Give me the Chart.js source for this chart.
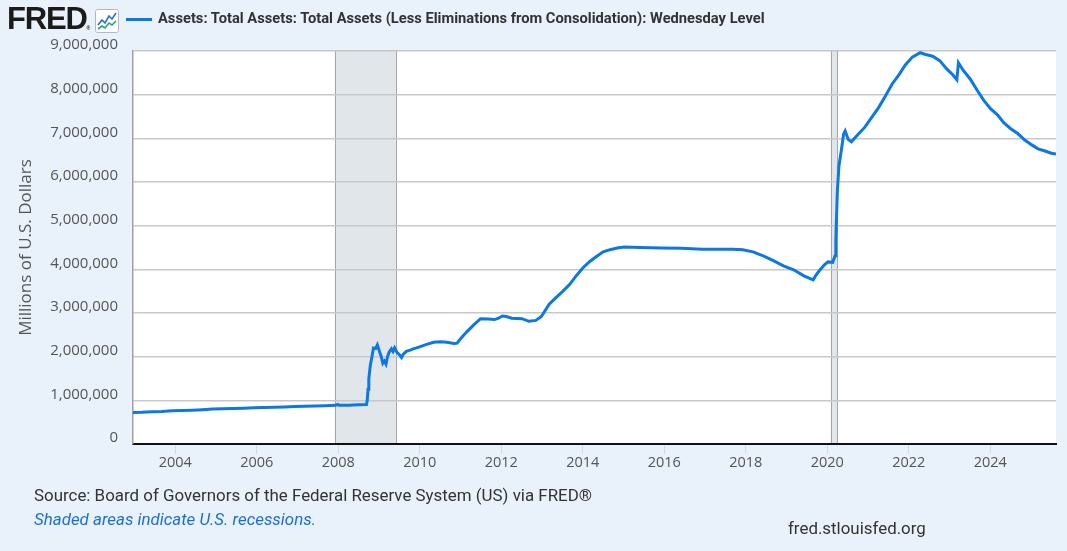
<!DOCTYPE html>
<html>
<head>
<meta charset="utf-8">
<title>FRED - Total Assets</title>
<script src="https://cdn.jsdelivr.net/npm/chart.js@4/dist/chart.umd.min.js"></script>
<style>
  html, body { margin: 0; padding: 0; }
  body {
    width: 1067px; height: 551px; overflow: hidden; position: relative;
    background: #e9f1fa; font-family: Roboto, "Open Sans", sans-serif;
  }
  #wrap { position: absolute; left: 0; top: 0; width: 1067px; height: 551px; }
  .abs { position: absolute; white-space: nowrap; }
  #logo { left: 7px; top: 1px; font: bold 31px "Liberation Sans", Arial, sans-serif; color: #1b1b1b; letter-spacing: -1.2px; }
  #logo sup { font-size: 5px; letter-spacing: 0; vertical-align: -1px; }
  #icon { left: 95px; top: 9px; }
  #swatch { left: 126px; top: 18px; width: 26px; height: 3px; background: #0b78e3; }
  #title { left: 158px; top: 9px; font-weight: bold; font-size: 14.7px; color: #333; }
  #source { left: 34px; top: 485px; font-size: 16.9px; color: #333; }
  #shaded { left: 34px; top: 509px; font-size: 16.9px; font-style: italic; color: #1a6fd6; }
  #site { left: 788px; top: 518px; font-size: 16.9px; color: #333; }
</style>
</head>
<body>
<div id="wrap"><canvas id="chart"></canvas></div>
<div class="abs" id="logo">FRED<sup>®</sup></div>
<svg class="abs" id="icon" width="24" height="24" viewBox="0 0 24 24">
  <rect x="0.5" y="0.5" width="23" height="23" rx="2" fill="#fff" stroke="#b8b8b8"/>
  <polyline points="3,16 7,11 10,14 14,7 17,10 21,4" fill="none" stroke="#2a6fd6" stroke-width="1.6"/>
  <polyline points="3,20 7,17 10,19 14,14 17,16 21,12" fill="none" stroke="#2aa37a" stroke-width="1.6"/>
</svg>
<div class="abs" id="swatch"></div>
<div class="abs" id="title">Assets: Total Assets: Total Assets (Less Eliminations from Consolidation): Wednesday Level</div>
<div class="abs" id="source">Source: Board of Governors of the Federal Reserve System (US) via FRED®</div>
<div class="abs" id="shaded">Shaded areas indicate U.S. recessions.</div>
<div class="abs" id="site">fred.stlouisfed.org</div>

<script>
// Datos (millones de dólares, nivel de los miércoles)
const dates = [
  '2002-12-18','2003-03-05','2003-06-04','2003-09-03','2003-12-03',
  '2004-03-03','2004-06-02','2004-09-01','2004-12-01',
  '2005-03-02','2005-06-01','2005-09-07','2005-12-07',
  '2006-03-01','2006-06-07','2006-09-06','2006-12-06',
  '2007-03-07','2007-06-06','2007-09-05','2007-12-05','2007-12-26',
  '2008-01-09','2008-04-02','2008-07-02','2008-09-10','2008-09-17','2008-09-24',
  '2008-10-01','2008-10-15','2008-10-29','2008-11-12','2008-12-03','2008-12-17',
  '2009-01-07','2009-01-21','2009-02-04','2009-02-18','2009-03-04','2009-03-18',
  '2009-04-01','2009-04-22','2009-05-06','2009-05-20','2009-06-10','2009-07-01',
  '2009-07-22','2009-08-05','2009-09-02','2009-10-07','2009-11-04','2009-12-02',
  '2010-01-06','2010-03-03','2010-05-05','2010-07-07','2010-09-01','2010-11-03','2010-12-01',
  '2011-01-05','2011-03-02','2011-05-04','2011-06-29','2011-09-07','2011-11-02','2011-12-07',
  '2012-01-11','2012-02-15','2012-04-04','2012-07-04','2012-09-05','2012-11-07','2012-12-26',
  '2013-03-06','2013-05-01','2013-07-03','2013-09-04','2013-11-06',
  '2014-01-01','2014-03-05','2014-05-07','2014-07-02','2014-09-03','2014-11-05',
  '2015-01-07','2015-06-03','2015-12-02','2016-06-01','2016-12-07',
  '2017-06-07','2017-09-06','2017-12-06',
  '2018-03-07','2018-06-06','2018-09-05','2018-12-05',
  '2019-03-06','2019-06-05','2019-08-28','2019-09-18','2019-10-16','2019-12-04',
  '2020-01-08','2020-02-19','2020-03-11','2020-03-18','2020-03-25','2020-04-01',
  '2020-04-15','2020-05-06','2020-05-27','2020-06-10','2020-07-08','2020-08-05',
  '2020-10-07','2020-12-02',
  '2021-02-03','2021-04-07','2021-06-02','2021-08-04','2021-10-06','2021-12-01',
  '2022-02-02','2022-04-13','2022-06-01','2022-08-03','2022-10-05','2022-12-07',
  '2023-02-01','2023-03-08','2023-03-22','2023-05-03','2023-07-05','2023-09-06','2023-11-01',
  '2024-01-03','2024-03-06','2024-05-01','2024-07-03','2024-09-04','2024-11-06',
  '2025-01-08','2025-03-05','2025-05-07','2025-07-02','2025-08-13'
];

const assets = [
  720000, 725000, 738000, 745000, 760000,
  765000, 775000, 785000, 800000,
  805000, 812000, 820000, 830000,
  835000, 843000, 850000, 858000,
  862000, 870000, 875000, 885000, 905000,
  890000, 885000, 900000, 905000, 1000000, 1256000,
  1491000, 1810000, 1990000, 2200000, 2190000, 2270000,
  2100000, 2000000, 1850000, 1900000, 1830000, 2000000,
  2100000, 2180000, 2120000, 2200000, 2100000, 2050000,
  1980000, 2050000, 2120000, 2150000, 2180000, 2200000,
  2230000, 2280000, 2330000, 2340000, 2330000, 2300000, 2310000,
  2420000, 2580000, 2740000, 2870000, 2860000, 2850000, 2880000,
  2930000, 2920000, 2880000, 2870000, 2810000, 2830000, 2920000,
  3200000, 3340000, 3490000, 3650000, 3860000,
  4030000, 4180000, 4300000, 4400000, 4450000, 4490000,
  4510000, 4500000, 4490000, 4480000, 4460000,
  4460000, 4460000, 4450000,
  4400000, 4310000, 4200000, 4080000,
  3990000, 3850000, 3760000, 3850000, 3950000, 4100000,
  4170000, 4160000, 4310000, 4670000, 5250000, 5810000,
  6370000, 6720000, 7100000, 7170000, 6970000, 6920000,
  7100000, 7250000,
  7480000, 7710000, 7950000, 8240000, 8460000, 8680000,
  8860000, 8960000, 8920000, 8880000, 8780000, 8590000,
  8450000, 8340000, 8730000, 8560000, 8360000, 8100000, 7880000,
  7680000, 7540000, 7360000, 7220000, 7110000, 6960000,
  6850000, 6760000, 6710000, 6660000, 6640000
];

// Recesiones (inicio, fin)
const recessionStarts = ['2007-12-01', '2020-02-01'];
const recessionEnds = ['2009-06-01', '2020-04-01'];

// Etiquetas de los ejes
const xTickYears = [2004, 2006, 2008, 2010, 2012, 2014, 2016, 2018, 2020, 2022, 2024];
const yTickValues = [0, 1000000, 2000000, 3000000, 4000000, 5000000, 6000000, 7000000, 8000000, 9000000];

const LINE_COLOR = '#0b78e3';

/**
 * Convierte 'YYYY-MM-DD' en año decimal
 */
function toYear(s) {
  const [y, m, d] = s.split('-').map(Number);
  const start = Date.UTC(y, 0, 1);
  const end = Date.UTC(y + 1, 0, 1);
  return y + (Date.UTC(y, m - 1, d) - start) / (end - start);
}

const points = dates.map((d, i) => ({ x: toYear(d), y: assets[i] }));

// Fondo blanco del área y franjas de recesión
const recessionPlugin = {
  id: 'recessions',
  beforeDraw(chart) {
    const { ctx, chartArea: a, scales: { x } } = chart;
    ctx.save();
    ctx.fillStyle = '#ffffff';
    ctx.fillRect(a.left, a.top, a.right - a.left, a.bottom - a.top);
    recessionStarts.forEach((s, i) => {
      const x0 = x.getPixelForValue(toYear(s));
      const x1 = x.getPixelForValue(toYear(recessionEnds[i]));
      ctx.fillStyle = '#e1e6eb';
      ctx.fillRect(x0, a.top, x1 - x0, a.bottom - a.top);
      ctx.strokeStyle = '#a6a6a6';
      ctx.lineWidth = 1;
      ctx.beginPath();
      ctx.moveTo(Math.round(x0) + 0.5, a.top);
      ctx.lineTo(Math.round(x0) + 0.5, a.bottom);
      ctx.moveTo(Math.round(x1) + 0.5, a.top);
      ctx.lineTo(Math.round(x1) + 0.5, a.bottom);
      ctx.stroke();
    });
    ctx.restore();
  }
};

new Chart(document.getElementById('chart'), {
  type: 'line',
  data: {
    datasets: [{
      label: 'Total Assets',
      data: points,
      borderColor: LINE_COLOR,
      borderWidth: 3,
      pointRadius: 0,
      tension: 0,
      fill: false
    }]
  },
  options: {
    responsive: true,
    maintainAspectRatio: false,
    animation: false,
    layout: { padding: { left: 0, right: 11, top: 51, bottom: 77 } },
    plugins: {
      legend: { display: false },
      tooltip: { enabled: false }
    },
    scales: {
      x: {
        type: 'linear',
        min: toYear(dates[0]),
        max: toYear(dates[dates.length - 1]),
        afterBuildTicks(axis) {
          axis.ticks = xTickYears.map(v => ({ value: v }));
        },
        afterFit(axis) { axis.height = 30; },
        grid: {
          drawOnChartArea: false,
          drawTicks: true,
          tickLength: 10,
          color: '#d2dbe5'
        },
        border: { color: '#111111', width: 2 },
        ticks: {
          padding: 0,
          maxRotation: 0,
          color: '#555555',
          font: { family: 'Open Sans', size: 14.5 },
          callback: v => String(v)
        }
      },
      y: {
        min: 0,
        max: 9000000,
        afterBuildTicks(axis) {
          axis.ticks = yTickValues.map(v => ({ value: v }));
        },
        afterFit(axis) { axis.width = 133; },
        grid: { color: '#c8c8c8', lineWidth: 1.5, drawTicks: false },
        border: { color: '#a0a0a0', width: 1.5 },
        ticks: {
          padding: 15,
          labelOffset: -6,
          color: '#555555',
          font: { family: 'Open Sans', size: 15 },
          callback: v => v.toLocaleString('en-US')
        },
        title: {
          display: true,
          text: 'Millions of U.S. Dollars',
          color: '#555555',
          font: { family: 'Open Sans', size: 17 },
          padding: { top: 16, bottom: 0 }
        }
      }
    }
  },
  plugins: [recessionPlugin]
});
</script>
</body>
</html>
